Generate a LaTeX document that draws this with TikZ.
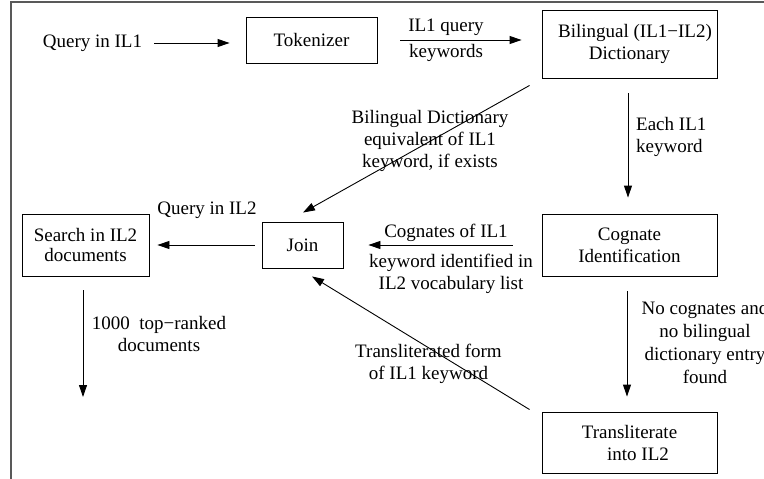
\documentclass[tikz,border=0pt]{standalone}
\usepackage{fontspec}
\setmainfont{Liberation Serif}
\usetikzlibrary{arrows.meta,calc}
\begin{document}
\begin{tikzpicture}[x=1pt,y=-1pt,
  every node/.style={font=\fontsize{19}{22}\selectfont, inner sep=0pt},
  box/.style={draw, line width=0.9pt, align=center},
  lbl/.style={align=center},
  arr/.style={line width=0.9pt, -{Triangle[length=12pt,width=8pt]}},
  frame/.style={line width=1.5pt, draw=black!65}]
\useasboundingbox (0,0) rectangle (764,479);
\draw[frame] (11,479) -- (11,2) -- (764,2);
% nodes
\node (q1) at (92.5,43) {Query in IL1};
\node[box, minimum width=131pt, minimum height=46pt] (tok) at (311.5,40) {Tokenizer};
\node[box, minimum width=175pt, minimum height=68pt] (bil) at (629.5,44) {\hspace*{11pt}Bilingual (IL1−IL2)\\Dictionary};
\node[box, minimum width=175pt, minimum height=62pt] (cog) at (629.5,245) {Cognate\\Identification};
\node[box, minimum width=175pt, minimum height=61pt] (tra) at (629.5,442.5) {Transliterate\\\hspace*{17pt}into IL2};
\node[box, minimum width=81pt, minimum height=46pt] (join) at (302.5,245) {Join};
\node[box, minimum width=127pt, minimum height=62pt, font=\fontsize{19}{19.5}\selectfont] (search) at (85.5,245) {Search in IL2\\documents};
\coordinate (out) at (83,397);
% connectors
\draw[arr, shorten <=12pt, shorten >=16pt] (q1.east) -- (q1.east -| tok.west);
\draw[arr, shorten <=23pt, shorten >=20pt] (tok.east) -- (bil.west |- tok.east);
\node (l1a) at (446,27) {IL1 query};
\node (l1b) at (446,53) {keywords};
\draw[arr] ($(bil.south west)+(-12,7)$) -- ($(join.north)+(0.5,-9)$);
\node[lbl] (l2) at (430,141) {Bilingual Dictionary\\equivalent of IL1\\keyword, if exists};
\draw[arr, shorten <=15pt, shorten >=16pt] ($(bil.south)+(-1.5,0)$) -- ($(cog.north)+(-1.5,0)$);
\node[align=left, anchor=west] (l3) at (636,136.5) {Each IL1\\keyword};
\draw[arr, shorten <=29pt, shorten >=25pt] (cog.west) -- (join.east);
\node (l4a) at (446,233) {Cognates of IL1};
\node[lbl] (l4b) at (451,274) {keyword identified in\\IL2 vocabulary list};
\draw[arr, shorten <=15pt, shorten >=15pt] ($(cog.south)+(-2.5,0)$) -- ($(tra.north)+(-2.5,0)$);
\node[lbl, font=\fontsize{19}{23}\selectfont] (l5) at (705,342) {No cognates and\\no bilingual\\dictionary entry\\found};
\draw[arr] ($(tra.north west)+(-12,-2)$) -- ($(join.south)+(9.5,8)$);
\node[lbl] (l6) at (428.5,364) {Transliterated form\\of IL1 keyword};
\draw[arr, shorten <=7pt, shorten >=8pt] (join.west) -- (search.east);
\node (l7) at (207,210) {Query in IL2};
\draw[arr, shorten <=14pt] ($(search.south)+(-2.5,0)$) -- (out);
\node[lbl] (l8) at (159,334) {1000\ \ top−ranked\\documents};
\end{tikzpicture}
\end{document}
